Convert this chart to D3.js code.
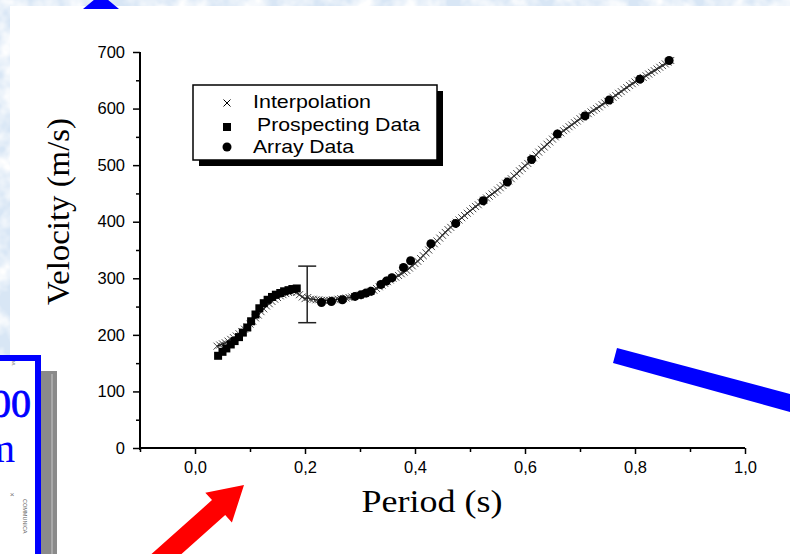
<!DOCTYPE html>
<html>
<head>
<meta charset="utf-8">
<script src="https://cdn.jsdelivr.net/npm/d3@7"></script>
<style>
  html, body { margin: 0; padding: 0; background: #fff; overflow: hidden; }
  svg { display: block; }
</style>
</head>
<body>
<svg id="chart" width="790" height="554"></svg>
<script>
// ---- Data -------------------------------------------------------------
// Interpolated dispersion curve, sampled on a regular period grid
const interpStart = 0.04;
const interpStep = 0.005;
const interpVelocity = [
  180,182,184,186,189,192,195,198,202,206,
  210,214,219,224,230,235,241,246,251,255,
  259,263,266,269,271,273,275,276,277,275,
  271,267,264,266,263,263,262,262,261,261,
  261,261,262,262,263,264,264,265,266,267,
  268,269,270,272,273,275,277,279,282,285,
  288,291,294,297,300,302,305,308,311,314,
  318,322,326,330,335,340,345,350,356,361,
  366,371,376,381,386,390,395,399,403,407,
  411,415,419,423,427,430,434,438,442,445,
  449,452,456,460,464,468,472,476,481,485,
  490,494,499,503,508,513,518,523,528,532,
  537,541,546,550,554,557,561,564,568,571,
  575,578,582,585,588,591,594,597,600,603,
  607,610,613,616,620,623,627,630,634,637,
  641,644,647,650,653,655,658,661,664,667,
  670,673,676,679,682,685
];

// Prospecting (short-period) measurements
const prospectPeriod = [0.042,0.050,0.057,0.065,0.072,0.080,0.087,0.095,0.102,0.110,
                        0.117,0.125,0.132,0.140,0.147,0.155,0.162,0.170,0.177,0.185];
const prospectVelocity = [163,170,176,183,189,196,204,213,224,236,
                          247,256,262,267,271,274,277,279,281,282];

// Array measurements
const arrayPeriod = [0.230,0.248,0.268,0.291,0.302,0.311,0.320,0.338,0.348,0.358,0.379,
                     0.392,0.429,0.474,0.524,0.568,0.612,0.659,0.709,0.753,0.809,0.862];
const arrayVelocity = [257,259,262,268,271,274,277,289,295,301,319,
                       331,361,397,437,470,510,555,587,615,652,685];

// Uncertainty bar
const errPeriod = [0.204];
const errMean = [271.5];
const errDelta = [50];

// Axis ticks
const xMajorTicks = [0.0, 0.2, 0.4, 0.6, 0.8, 1.0];
const xMinorTicks = [-0.1, 0.1, 0.3, 0.5, 0.7, 0.9];
const yMajorTicks = [0, 100, 200, 300, 400, 500, 600, 700];
const yMinorTicks = [50, 150, 250, 350, 450, 550, 650];

const legendLabels = ["Interpolation", "Prospecting Data", "Array Data"];

// ---- Drawing ---------------------------------------------------------
const svg = d3.select("#chart");
const sans = "'Liberation Sans', Arial, Helvetica, sans-serif";
const serif = "'Liberation Serif', 'Times New Roman', Times, serif";

// textured slide background
const defs = svg.append("defs");
const paper = defs.append("filter").attr("id", "paper")
  .attr("x", 0).attr("y", 0).attr("width", "100%").attr("height", "100%");
paper.append("feTurbulence").attr("type", "fractalNoise")
  .attr("baseFrequency", "0.045").attr("numOctaves", 3).attr("seed", 7);
paper.append("feColorMatrix").attr("type", "matrix")
  .attr("values", "0 0 0 0 1  0 0 0 0 1  0 0 0 0 1  2.4 0 0 0 -0.85");

svg.append("rect").attr("width", 790).attr("height", 554).attr("fill", "#d8e6f5");
svg.append("rect").attr("width", 790).attr("height", 554).attr("filter", "url(#paper)");

// white slide panel
svg.append("rect").attr("x", 10).attr("y", 6).attr("width", 780).attr("height", 548).attr("fill", "#fff");

// blue arrow head at the top edge
svg.append("polygon").attr("points", "83,9 119,9 101,-6").attr("fill", "#0000ff");

// side panel on the left
svg.append("rect").attr("x", 41).attr("y", 371).attr("width", 16).attr("height", 190).attr("fill", "#8a8a8a");
svg.append("line").attr("x1", 52).attr("x2", 52).attr("y1", 374).attr("y2", 554)
  .attr("stroke", "#c8c8c8").attr("stroke-width", 1);
svg.append("rect").attr("x", -10).attr("y", 358).attr("width", 48).attr("height", 210)
  .attr("fill", "#fff").attr("stroke", "#0000ff").attr("stroke-width", 6);
svg.append("text").attr("x", 31).attr("y", 417).attr("text-anchor", "end")
  .style("font-family", serif).style("font-size", "40px")
  .attr("fill", "#0000ff").attr("stroke", "#0000ff").attr("stroke-width", 0.8).text("00");
svg.append("text").attr("x", -16).attr("y", 462)
  .style("font-family", serif).style("font-size", "40px").attr("fill", "#0000ff").text("m");
svg.append("text").attr("x", 12).attr("y", 497).attr("text-anchor", "middle")
  .style("font-family", sans).style("font-size", "8px").attr("fill", "#777").text("×");
svg.append("text").attr("transform", "translate(23,499) rotate(90)")
  .style("font-family", sans).style("font-size", "5.5px").attr("fill", "#666").text("COMMUNICA");
svg.append("text").attr("transform", "translate(12,361) rotate(90)")
  .style("font-family", sans).style("font-size", "4px").attr("fill", "#888").text("ML");

// red block arrow at the bottom
svg.append("polygon")
  .attr("points", "244,485 231.9,522.5 225.2,515.1 150.5,581.6 137.3,566.6 212,500.1 205.3,492.7")
  .attr("fill", "#ff0000");

// blue bar on the right
svg.append("polygon").attr("points", "617,348 790,394 790,412 613,363").attr("fill", "#0000ff");

// ---- Chart -----------------------------------------------------------
const x = d3.scaleLinear().domain([-0.1, 1.0]).range([140, 745]);
const y = d3.scaleLinear().domain([0, 700]).range([448, 52]);
const fmtX = d => d3.format(".1f")(d).replace(".", ",");

function styleAxis(g) {
  g.selectAll("text").style("font-family", sans).style("font-size", "16.5px").attr("fill", "#000");
  g.selectAll(".tick line").attr("stroke", "#000").attr("stroke-width", 1.5);
}

// minor ticks
svg.append("g").attr("transform", "translate(140,0)")
  .call(d3.axisLeft(y).tickValues(yMinorTicks).tickSize(4).tickFormat(""))
  .call(g => { g.select(".domain").remove(); styleAxis(g); });
svg.append("g").attr("transform", "translate(0,448)")
  .call(d3.axisBottom(x).tickValues(xMinorTicks).tickSize(4).tickFormat(""))
  .call(g => { g.select(".domain").remove(); styleAxis(g); });

// major ticks + labels
svg.append("g").attr("transform", "translate(140,0)")
  .call(d3.axisLeft(y).tickValues(yMajorTicks).tickSize(7).tickPadding(8).tickSizeOuter(0))
  .call(g => { g.select(".domain").remove(); styleAxis(g); });
svg.append("g").attr("transform", "translate(0,448)")
  .call(d3.axisBottom(x).tickValues(xMajorTicks).tickSize(6).tickPadding(7).tickSizeOuter(0).tickFormat(fmtX))
  .call(g => { g.select(".domain").remove(); styleAxis(g); });

// axis lines
svg.append("path")
  .attr("d", `M${x(-0.1)},${y(700)}V${y(0) + 2}M${x(-0.1)},${y(0)}H${x(1.0)}`)
  .attr("fill", "none").attr("stroke", "#000").attr("stroke-width", 2);

// interpolation curve
const interp = interpVelocity.map((v, i) => ({ p: interpStart + i * interpStep, v }));
svg.append("path").datum(interp)
  .attr("d", d3.line().x(d => x(d.p)).y(d => y(d.v)))
  .attr("fill", "none").attr("stroke", "#000").attr("stroke-width", 1.3);
svg.append("g").selectAll("path").data(interp).join("path")
  .attr("transform", d => `translate(${x(d.p)},${y(d.v)})`)
  .attr("d", "M-3.5,-3.5L3.5,3.5M-3.5,3.5L3.5,-3.5")
  .attr("stroke", "#333").attr("stroke-width", 0.9).attr("fill", "none");

// uncertainty bar
const eb = svg.append("g").attr("stroke", "#222").attr("stroke-width", 1.5);
errPeriod.forEach((p, i) => {
  const cx = x(p), top = y(errMean[i] + errDelta[i]), bot = y(errMean[i] - errDelta[i]);
  eb.append("line").attr("x1", cx).attr("x2", cx).attr("y1", top).attr("y2", bot);
  eb.append("line").attr("x1", cx - 9).attr("x2", cx + 9).attr("y1", top).attr("y2", top);
  eb.append("line").attr("x1", cx - 9).attr("x2", cx + 9).attr("y1", bot).attr("y2", bot);
});

// prospecting squares
svg.append("g").selectAll("rect").data(prospectPeriod).join("rect")
  .attr("x", d => x(d) - 4)
  .attr("y", (d, i) => y(prospectVelocity[i]) - 4)
  .attr("width", 8).attr("height", 8).attr("fill", "#000");

// array circles
svg.append("g").selectAll("circle").data(arrayPeriod).join("circle")
  .attr("cx", d => x(d))
  .attr("cy", (d, i) => y(arrayVelocity[i]))
  .attr("r", 4.5).attr("fill", "#000");

// legend
const lg = svg.append("g");
lg.append("rect").attr("x", 199).attr("y", 91).attr("width", 244).attr("height", 75).attr("fill", "#000");
lg.append("rect").attr("x", 193).attr("y", 85).attr("width", 244).attr("height", 75)
  .attr("fill", "#fff").attr("stroke", "#000").attr("stroke-width", 1.5);
lg.append("path").attr("transform", "translate(227,103)").attr("d", "M-3.5,-3.5L3.5,3.5M-3.5,3.5L3.5,-3.5")
  .attr("stroke", "#000").attr("stroke-width", 1);
lg.append("rect").attr("x", 223).attr("y", 123).attr("width", 8).attr("height", 8).attr("fill", "#000");
lg.append("circle").attr("cx", 227).attr("cy", 147).attr("r", 4.5).attr("fill", "#000");
const legPos = [[253, 108, 118], [257, 131, 163], [253, 152.5, 101]];
legendLabels.forEach((t, i) => {
  lg.append("text").attr("x", legPos[i][0]).attr("y", legPos[i][1])
    .attr("textLength", legPos[i][2]).attr("lengthAdjust", "spacingAndGlyphs")
    .style("font-family", sans).style("font-size", "19px").attr("fill", "#000").text(t);
});

// axis titles
svg.append("text").attr("x", 432).attr("y", 512).attr("text-anchor", "middle")
  .attr("textLength", 141).attr("lengthAdjust", "spacingAndGlyphs")
  .style("font-family", serif).style("font-size", "31px").attr("fill", "#000").text("Period (s)");
svg.append("text").attr("transform", "translate(69,211.5) rotate(-90)").attr("text-anchor", "middle")
  .attr("textLength", 187).attr("lengthAdjust", "spacingAndGlyphs")
  .style("font-family", serif).style("font-size", "31px").attr("fill", "#000").text("Velocity (m/s)");
</script>
</body>
</html>
